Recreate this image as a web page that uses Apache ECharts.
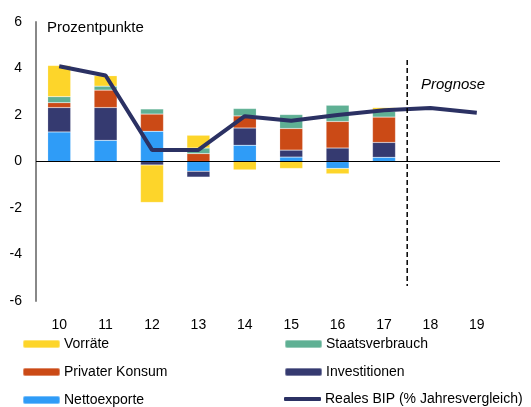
<!DOCTYPE html>
<html>
<head>
<meta charset="utf-8">
<script src="https://cdn.jsdelivr.net/npm/echarts@6/dist/echarts.min.js"></script>
<style>
  html, body { margin: 0; padding: 0; background: #fff; }
  #chart { width: 531px; height: 407px; }
</style>
</head>
<body>
<div id="chart"></div>
<script>
var myChart = echarts.init(document.getElementById('chart'));

// Daten (Prozentpunkte)
var years = ['10', '11', '12', '13', '14', '15', '16', '17', '18', '19'];
var nettoexporte = [1.27, 0.91, 1.30, -0.42, 0.70, 0.19, -0.30, 0.18, null, null];
var investitionen = [1.05, 1.41, -0.15, -0.25, 0.74, 0.30, 0.58, 0.64, null, null];
var konsum = [0.21, 0.75, 0.74, 0.34, 0.52, 0.93, 1.14, 1.09, null, null];
var staat = [0.26, 0.17, 0.22, 0.24, 0.32, 0.60, 0.70, 0.25, null, null];
var vorraete = [1.34, 0.45, -1.61, 0.55, -0.36, -0.30, -0.23, 0.16, null, null];
var bip = [4.1, 3.7, 0.5, 0.5, 1.95, 1.75, 2.0, 2.2, 2.3, 2.1];
var yTicks = [-6, -4, -2, 0, 2, 4, 6];
// Trennlinie zwischen Ist-Werten und Prognose (Kategorie-Index, y von/bis)
var prognoseLinie = [[7.5, 4.37], [7.5, -5.35]];

var font = 'Liberation Sans, Arial, sans-serif';

function barSeries(name, data, color) {
    return {
        name: name,
        type: 'bar',
        stack: 'beitrag',
        barWidth: 23,
        data: data,
        itemStyle: { color: color, borderColor: 'rgba(255,255,255,0.35)', borderWidth: 0.5 }
    };
}

var legendText = { fontSize: 14, color: '#000', padding: [0, 0, 0, -1] };

var option = {
    animation: false,
    textStyle: { fontFamily: font },
    grid: { left: 36, right: 31, top: 22, bottom: 106 },
    title: {
        text: 'Prozentpunkte',
        left: 42, top: 15,
        textStyle: { fontSize: 15, fontWeight: 'normal', color: '#000', fontFamily: font }
    },
    legend: [{
        orient: 'vertical',
        left: 17, top: 332, height: 100,
        itemWidth: 37, itemHeight: 8, itemGap: 14,
        textStyle: legendText,
        data: ['Vorräte', 'Privater Konsum', 'Nettoexporte']
    }, {
        orient: 'vertical',
        left: 279, top: 332, height: 100,
        itemWidth: 37, itemHeight: 8, itemGap: 14,
        textStyle: legendText,
        data: ['Staatsverbrauch', 'Investitionen']
    }, {
        left: 279, top: 387,
        itemWidth: 37, itemHeight: 4,
        textStyle: legendText,
        data: [{ name: 'Reales BIP (% Jahresvergleich)', icon: 'roundRect' }]
    }],
    xAxis: [{
        type: 'category',
        data: years,
        axisLine: { show: false },
        axisTick: { show: false },
        axisLabel: { fontSize: 14, color: '#000', margin: 17 }
    }, {
        type: 'value',
        min: -0.5, max: years.length - 0.5,
        show: false
    }],
    yAxis: {
        type: 'value',
        min: yTicks[0], max: yTicks[yTicks.length - 1], interval: 2,
        splitLine: { show: false },
        axisTick: { show: false },
        axisLine: { show: true, onZero: false, lineStyle: { color: '#888', width: 2 } },
        axisLabel: { fontSize: 14, color: '#000', margin: 14 }
    },
    graphic: [{
        type: 'text',
        left: 421, top: 77,
        style: { text: 'Prognose', fontSize: 15, fontStyle: 'italic', fill: '#000', fontFamily: font }
    }],
    series: [
        barSeries('Nettoexporte', nettoexporte, '#2f9cf7'),
        barSeries('Investitionen', investitionen, '#353a70'),
        barSeries('Privater Konsum', konsum, '#cb4a16'),
        barSeries('Staatsverbrauch', staat, '#5fb094'),
        barSeries('Vorräte', vorraete, '#fdd52a'),
        {
            name: 'Reales BIP (% Jahresvergleich)',
            type: 'line',
            data: bip,
            symbol: 'none',
            lineStyle: { color: '#2b3163', width: 4 },
            itemStyle: { color: '#2b3163' },
            z: 5,
            markLine: {
                silent: true,
                symbol: 'none',
                label: { show: false },
                data: [{ yAxis: 0, lineStyle: { color: '#000', width: 1, type: 'solid' } }]
            }
        },
        {
            name: 'Prognose',
            type: 'line',
            xAxisIndex: 1,
            data: prognoseLinie,
            symbol: 'none',
            silent: true,
            lineStyle: { color: '#000', width: 1.5, type: [5, 3] },
            z: 6
        }
    ]
};

myChart.setOption(option);
</script>
</body>
</html>
